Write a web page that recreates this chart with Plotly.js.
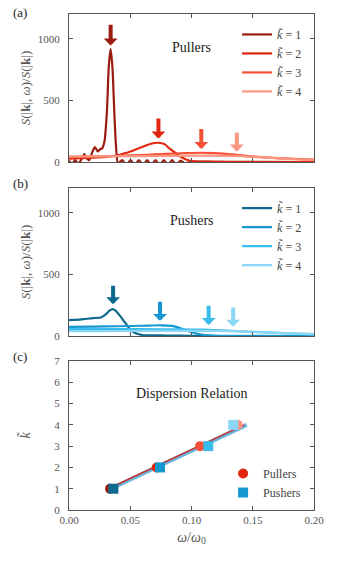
<!DOCTYPE html>
<html>
<head>
<meta charset="utf-8">
<script src="https://cdn.plot.ly/plotly-3.0.1.min.js"></script>
<style>
  body { margin: 0; padding: 0; background: #fff; }
  #graph { width: 340px; height: 567px; }
</style>
</head>
<body>
<div id="graph"></div>
<script>
// k labels
var kValues = [1, 2, 3, 4]
var kLabels = ['<i>k̃</i> = 1', '<i>k̃</i> = 2', '<i>k̃</i> = 3', '<i>k̃</i> = 4']

// (a) pullers, S(|k|,w)/S(|k|)
var pullW1 = [0, 0.0025, 0.005, 0.0075, 0.0095, 0.0125, 0.0145, 0.0165, 0.019, 0.0212, 0.0235, 0.0255, 0.027, 0.029, 0.031, 0.0325, 0.034, 0.0355, 0.037, 0.0385, 0.040, 0.0434, 0.0468, 0.0502, 0.0536, 0.057, 0.0604, 0.0638, 0.0672, 0.0706, 0.074, 0.0774, 0.0808, 0.0842, 0.0876, 0.091, 0.0944, 0.10, 0.12, 0.15, 0.2]
var pullS1 = [10, -15, 15, -15, 10, 65, 30, 15, 80, 120, 85, 105, 110, 170, 420, 780, 915, 760, 400, 110, -10, 16, -25, 16, -25, 16, -25, 16, -25, 16, -25, 16, -25, 16, -25, 12, -10, 3, 2, 1, 0]
var pullW2 = [0, 0.01, 0.02, 0.03, 0.04, 0.047, 0.054, 0.060, 0.067, 0.073, 0.078, 0.082, 0.088, 0.093, 0.098, 0.104, 0.115, 0.13, 0.2]
var pullS2 = [28, 32, 36, 42, 55, 75, 100, 123, 148, 156, 145, 110, 65, 32, 12, 4, 1, 0, 0]
var pullW3 = [0, 0.02, 0.04, 0.06, 0.08, 0.095, 0.108, 0.12, 0.135, 0.15, 0.17, 0.2]
var pullS3 = [40, 44, 50, 57, 66, 72, 75, 72, 60, 45, 32, 20]
var pullW4 = [0, 0.03, 0.06, 0.09, 0.115, 0.135, 0.155, 0.175, 0.2]
var pullS4 = [45, 46, 48, 50, 52, 50, 40, 28, 15]

// (b) pushers
var pushW1 = [0, 0.01, 0.02, 0.026, 0.030, 0.033, 0.0357, 0.038, 0.0415, 0.0445, 0.050, 0.055, 0.060, 0.08, 0.1, 0.12, 0.2]
var pushS1 = [128, 135, 145, 150, 175, 205, 218, 205, 165, 125, 54, 20, 8, 4, 2, 0, 0]
var pushW2 = [0, 0.02, 0.04, 0.06, 0.075, 0.084, 0.0906, 0.097, 0.103, 0.107, 0.115, 0.13, 0.2]
var pushS2 = [74, 76, 79, 83, 87, 82, 64, 40, 22, 14, 5, 1, 0]
var pushW3 = [0, 0.03, 0.06, 0.09, 0.11, 0.125, 0.14, 0.16, 0.18, 0.2]
var pushS3 = [56, 56, 55, 54, 51, 46, 38, 29, 21, 15]
var pushW4 = [0, 0.03, 0.06, 0.09, 0.12, 0.14, 0.16, 0.18, 0.2]
var pushS4 = [40, 40, 41, 42, 42, 38, 30, 22, 14]

// arrows: peak position, tip and tail height
var pullArrowW = [0.034, 0.073, 0.108, 0.137]
var pullArrowTip = [945, 190, 105, 85]
var pullArrowTail = [1125, 365, 280, 250]
var pushArrowW = [0.036, 0.0743, 0.114, 0.134]
var pushArrowTip = [258, 123, 89, 75]
var pushArrowTail = [420, 290, 258, 244]

// (c) dispersion relation
var pullPeakW = [0.0335, 0.0716, 0.107, 0.1377]
var pushPeakW = [0.0362, 0.0743, 0.1137, 0.134]
var pullFitW = [0.032, 0.143]
var pullFitK = [1.0, 4.0]
var pushFitW = [0.034, 0.145]
var pushFitK = [1.0, 4.0]

var pullColors = ['#9a1c10', '#e0260f', '#f65036', '#fa9580']
var pushColors = ['#0d6a8e', '#1598cf', '#38bceb', '#8dd7f6']

var pullW = [pullW1, pullW2, pullW3, pullW4]
var pullS = [pullS1, pullS2, pullS3, pullS4]
var pushW = [pushW1, pushW2, pushW3, pushW4]
var pushS = [pushS1, pushS2, pushS3, pushS4]

var font = 'Liberation Serif, DejaVu Serif, serif'
var data = []

for (var i = 0; i < 4; i++) {
  data.push({
    type: 'scatter', mode: 'lines', x: pullW[i], y: pullS[i],
    xaxis: 'x', yaxis: 'y', name: kLabels[i], legend: 'legend',
    line: { color: pullColors[i], width: 2.2, shape: 'spline', smoothing: 0.6 }
  })
}
for (var i = 0; i < 4; i++) {
  data.push({
    type: 'scatter', mode: 'lines', x: pushW[i], y: pushS[i],
    xaxis: 'x2', yaxis: 'y2', name: kLabels[i], legend: 'legend2',
    line: { color: pushColors[i], width: 2.2, shape: 'spline', smoothing: 0.6 }
  })
}

// fit lines, blue under red
data.push({
  type: 'scatter', mode: 'lines', x: pushFitW, y: pushFitK, xaxis: 'x3', yaxis: 'y3',
  showlegend: false, line: { color: '#6ab4e0', width: 4 }
})
data.push({
  type: 'scatter', mode: 'lines', x: pullFitW, y: pullFitK, xaxis: 'x3', yaxis: 'y3',
  showlegend: false, line: { color: '#c8352a', width: 1.6 }
})
for (var i = 0; i < 4; i++) {
  data.push({
    type: 'scatter', mode: 'markers', x: [pullPeakW[i]], y: [kValues[i]],
    xaxis: 'x3', yaxis: 'y3', name: 'Pullers', legend: 'legend3', showlegend: i === 1,
    marker: { symbol: 'circle', size: 10, color: pullColors[i] }
  })
}
for (var i = 0; i < 4; i++) {
  data.push({
    type: 'scatter', mode: 'markers', x: [pushPeakW[i]], y: [kValues[i]],
    xaxis: 'x3', yaxis: 'y3', name: 'Pushers', legend: 'legend3', showlegend: i === 1,
    marker: { symbol: 'square', size: 10, color: pushColors[i] }
  })
}

var annotations = []
for (var i = 0; i < 4; i++) {
  annotations.push({
    xref: 'x', yref: 'y', axref: 'x', ayref: 'y',
    x: pullArrowW[i], y: pullArrowTip[i], ax: pullArrowW[i], ay: pullArrowTail[i],
    showarrow: true, arrowhead: 1, arrowwidth: 4, arrowsize: 0.58, arrowcolor: pullColors[i], text: ''
  })
  annotations.push({
    xref: 'x2', yref: 'y2', axref: 'x2', ayref: 'y2',
    x: pushArrowW[i], y: pushArrowTip[i], ax: pushArrowW[i], ay: pushArrowTail[i],
    showarrow: true, arrowhead: 1, arrowwidth: 4, arrowsize: 0.58, arrowcolor: pushColors[i], text: ''
  })
}
var labels = [
  { text: '(a)', x: -0.2, y: 1.004 },
  { text: '(b)', x: -0.2, y: 0.659 },
  { text: '(c)', x: -0.2, y: 0.310 },
  { text: 'Pullers', x: 0.5, y: 0.932 },
  { text: 'Pushers', x: 0.5, y: 0.583 },
  { text: 'Dispersion Relation', x: 0.5, y: 0.234 }
]
labels.forEach(function (l) {
  annotations.push({
    xref: 'paper', yref: 'paper', x: l.x, y: l.y, text: l.text, showarrow: false,
    xanchor: 'center', yanchor: 'middle',
    font: { family: font, size: l.text.length > 3 ? 14 : 13, color: '#222' }
  })
})

function xAxis (anchor, labelsOn) {
  return {
    anchor: anchor, range: [0, 0.2], tickvals: [0, 0.05, 0.1, 0.15, 0.2],
    ticktext: ['0.00', '0.05', '0.10', '0.15', '0.20'],
    showticklabels: labelsOn, ticks: 'inside', ticklen: 4, tickcolor: '#555',
    showline: true, linecolor: '#555', linewidth: 1, mirror: 'ticks',
    showgrid: false, zeroline: false, tickfont: { family: font, size: 11, color: '#555' }
  }
}
function sAxis (anchor, domain) {
  return {
    anchor: anchor, domain: domain, range: [0, 1200], tickvals: [0, 500, 1000],
    ticks: 'inside', ticklen: 4, tickcolor: '#555',
    showline: true, linecolor: '#555', linewidth: 1, mirror: 'ticks',
    showgrid: false, zeroline: false, tickfont: { family: font, size: 11, color: '#555' },
    ticklabelstandoff: 6,
    title: { text: '<i>S</i>(|<b>k</b>|, <i>ω</i>)/<i>S</i>(|<b>k</b>|)', standoff: 4, font: { family: font, size: 13, color: '#555' } }
  }
}

var x3 = xAxis('y3', true)
x3.title = { text: '<i>ω</i>/<i>ω</i><sub>0</sub>', standoff: 6, font: { family: font, size: 14, color: '#555' } }

var layout = {
  width: 340,
  height: 567,
  margin: { l: 69, r: 26, t: 14, b: 57 },
  paper_bgcolor: '#fff',
  plot_bgcolor: '#fff',
  font: { family: font, color: '#333' },
  xaxis: xAxis('y', false),
  xaxis2: xAxis('y2', false),
  xaxis3: x3,
  yaxis: sAxis('x', [0.7016, 1]),
  yaxis2: sAxis('x2', [0.3508, 0.6492]),
  yaxis3: {
    anchor: 'x3', domain: [0, 0.3004], range: [0, 7], dtick: 1,
    ticks: 'inside', ticklen: 4, tickcolor: '#555',
    showline: true, linecolor: '#555', linewidth: 1, mirror: 'ticks',
    showgrid: false, zeroline: false, tickfont: { family: font, size: 11, color: '#555' },
    ticklabelstandoff: 6,
    title: { text: '<i>k̃</i>', standoff: 20, font: { family: font, size: 14, color: '#555' } }
  },
  legend: {
    x: 0.686, y: 0.988, xanchor: 'left', yanchor: 'top', bgcolor: 'rgba(0,0,0,0)',
    font: { family: font, size: 12, color: '#444' }
  },
  legend2: {
    x: 0.686, y: 0.638, xanchor: 'left', yanchor: 'top', bgcolor: 'rgba(0,0,0,0)',
    font: { family: font, size: 12, color: '#444' }
  },
  legend3: {
    x: 0.629, y: 0.006, xanchor: 'left', yanchor: 'bottom', bgcolor: 'rgba(0,0,0,0)',
    font: { family: font, size: 12, color: '#444' }
  },
  annotations: annotations
}

Plotly.newPlot('graph', data, layout, { displayModeBar: false, staticPlot: true })
</script>
</body>
</html>
